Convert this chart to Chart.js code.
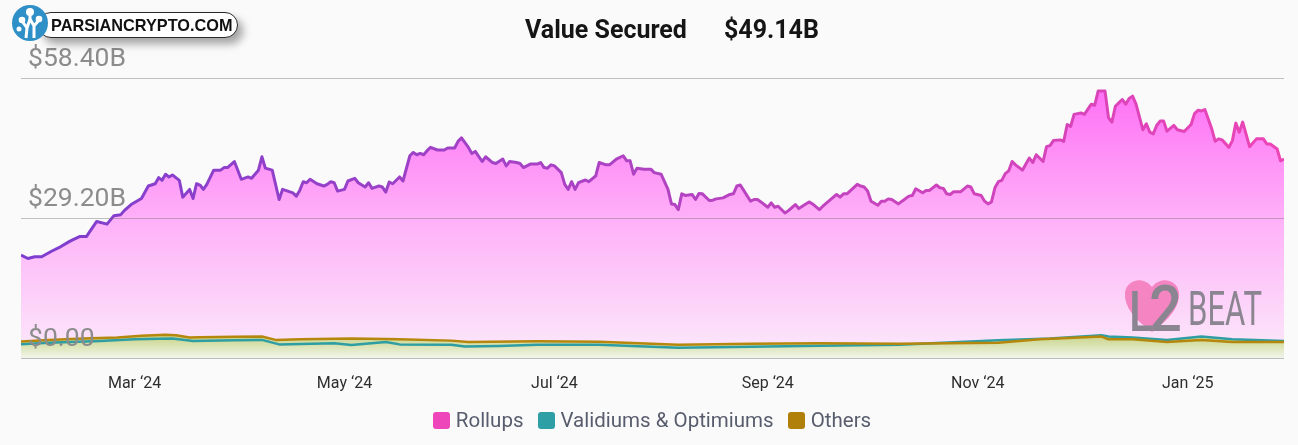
<!DOCTYPE html>
<html>
<head>
<meta charset="utf-8">
<script src="https://cdn.jsdelivr.net/npm/chart.js@4.4.1/dist/chart.umd.min.js"></script>
<style>
  html, body { margin: 0; padding: 0; background: #fafafa; }
  #wrap { position: relative; width: 1298px; height: 445px; font-family: Roboto, sans-serif; overflow: hidden; }
  #wrap canvas { position: absolute; left: 0; top: 0; }
  .title { position: absolute; top: 15px; font-weight: 700; font-size: 25px; line-height: 30px; color: #151515; }
  #legend { position: absolute; left: 3px; width: 1298px; top: 407px; display: flex; justify-content: center; gap: 14px;
            font-size: 20.5px; color: #585d6e; line-height: 26px; }
  #legend span { display: flex; align-items: center; gap: 6px; }
  #legend i { display: inline-block; width: 17px; height: 17px; border-radius: 3px; }
  #pill { position: absolute; left: 38px; top: 12px; width: 186px; height: 24px; padding-left: 12px; background: #fff;
          border: 1.5px solid #2a2a2a; border-radius: 14px; box-shadow: 5px 6px 9px rgba(0,0,0,0.35);
          font-family: "Liberation Sans", Arial, sans-serif; font-weight: 700; font-size: 16.3px; line-height: 24px; color: #111; }
  #coin { position: absolute; left: 11px; top: 4px; }
  #l2beat { position: absolute; left: 1122px; top: 274px; }
</style>
</head>
<body>
<div id="wrap">
  <canvas id="tvlChart" width="1298" height="445"></canvas>
  <div class="title" style="left:525px">Value Secured</div>
  <div class="title" style="left:724px">$49.14B</div>
  <div id="legend"></div>
  <div id="pill">PARSIANCRYPTO.COM</div>
  <svg id="coin" width="38" height="38" viewBox="0 0 38 38">
    <circle cx="19" cy="19" r="18" fill="#2f8fc7"/>
    <path d="M15 34 L16 24 L11 17 M16 24 L19 15 L19 9 M19 15 L23 22 L28 16 M23 22 L23 34" stroke="#fff" stroke-width="3" fill="none"/>
    <circle cx="11" cy="16" r="3.3" fill="#fff"/>
    <circle cx="19" cy="8" r="4" fill="#fff"/>
    <circle cx="28" cy="15" r="3.3" fill="#fff"/>
    <circle cx="8" cy="25" r="2.5" fill="#fff"/>
  </svg>
  <svg id="l2beat" width="150" height="64" viewBox="0 0 150 64">
    <path d="M30 58 C 12 45, 2 32, 3 19 C 4 6, 21 1, 30 13 C 39 1, 56 6, 57 19 C 58 32, 48 45, 30 58 Z" fill="#f585c2"/>
    <text x="7" y="57" font-family="Roboto" font-weight="500" font-size="56" fill="#8b8591" textLength="24" lengthAdjust="spacingAndGlyphs">L</text>
    <text x="27" y="57" font-family="Roboto" font-weight="500" font-size="64" fill="#8b8591" textLength="33" lengthAdjust="spacingAndGlyphs">2</text>
    <text x="66" y="51" font-family="Roboto" font-weight="400" font-size="48" fill="#8b8591" textLength="74" lengthAdjust="spacingAndGlyphs">BEAT</text>
  </svg>
</div>
<script>
// day 0 = 28 Jan 2024, one step per day
const startDate = '2024-01-28';
const lastDay = 367;
const monthTicks = ['2024-03-01', '2024-05-01', '2024-07-01', '2024-09-01', '2024-11-01', '2025-01-01'];
const monthLabels = ['Mar ‘24', 'May ‘24', 'Jul ‘24', 'Sep ‘24', 'Nov ‘24', 'Jan ‘25'];
const yTicks = [0, 29.2, 58.4];

const seriesNames = ['Rollups', 'Validiums & Optimiums', 'Others'];
const seriesColors = ['#ee46ba', '#2e9fa4', '#b0800a'];

// values in $B
const rollupDays = [0, 2, 4, 6, 9, 11, 14, 15, 17, 19, 22, 25, 27, 29, 30, 32, 35, 37, 39, 40,
  41, 42, 43, 44, 46, 47, 49, 50, 51, 52, 53, 54, 56, 58, 59, 60, 62, 64, 66, 67,
  69, 70, 71, 73, 75, 76, 79, 80, 81, 82, 83, 84, 86, 88, 89, 90, 91, 92, 94, 95,
  97, 98, 100, 101, 102, 104, 105, 106, 107, 108, 110, 111, 113, 114, 115, 116, 117, 118, 119, 121,
  123, 124, 126, 127, 128, 130, 131, 132, 134, 135, 137, 138, 140, 141, 142, 144, 145, 146, 148, 150,
  151, 152, 153, 154, 155, 157, 158, 159, 160, 161, 162, 164, 165, 167, 168, 170, 171, 173, 175, 176,
  177, 178, 179, 181, 183, 184, 186, 188, 189, 190, 191, 192, 193, 195, 196, 197, 198, 200, 201, 202,
  204, 206, 207, 208, 209, 210, 212, 213, 214, 215, 217, 218, 219, 220, 222, 223, 225, 226, 229, 230,
  232, 233, 237, 238, 239, 240, 243, 244, 245, 246, 247, 249, 250, 251, 252, 253, 255, 256, 258, 259,
  260, 262, 263, 264, 266, 267, 268, 269, 270, 271, 273, 275, 276, 277, 279, 280, 281, 282, 283, 284,
  285, 286, 287, 288, 289, 291, 292, 293, 294, 295, 297, 298, 299, 300, 302, 303, 304, 305, 306, 308,
  309, 311, 312, 313, 315, 316, 317, 318, 319, 320, 321, 322, 323, 324, 326, 327, 328, 329, 330, 331,
  332, 333, 335, 336, 338, 340, 341, 342, 343, 344, 346, 347, 348, 349, 351, 352, 353, 354, 355, 357,
  359, 361, 362, 363, 365, 366, 367];
const rollupValues = [21.58, 20.86, 21.22, 21.22, 22.42, 23.11, 24.37, 24.73, 25.42, 25.42, 28.57, 28.01, 29.77, 29.98, 30.82, 32.08, 33.34, 35.93, 36.41, 37.67,
  37.12, 38.39, 37.82, 38.24, 37.12, 33.62, 35.23, 33.34, 36.41, 36.14, 35.23, 36.28, 39.23, 39.23, 39.77, 39.77, 41.03, 37.33, 37.82, 37.54,
  39.23, 42.02, 39.65, 39.23, 33.13, 35.23, 34.52, 33.83, 35.02, 36.83, 36.62, 37.33, 36.41, 35.93, 36.28, 36.83, 36.62, 34.88, 35.23, 36.98,
  37.54, 36.62, 35.72, 36.62, 35.44, 35.93, 35.72, 34.67, 36.77, 36.41, 37.82, 36.98, 42.23, 42.92, 42.44, 42.71, 42.44, 43.28, 43.97, 43.43,
  43.43, 43.85, 43.85, 45.23, 45.95, 43.97, 42.71, 43.13, 41.03, 42.02, 40.82, 40.61, 41.54, 40.13, 41.03, 40.82, 40.61, 39.77, 40.49, 40.49,
  40.82, 39.77, 39.65, 40.34, 40.13, 38.72, 36.28, 35.23, 36.83, 35.23, 36.62, 37.19, 36.83, 38.03, 40.82, 40.34, 40.34, 41.54, 42.23, 41.18,
  41.18, 38.39, 39.65, 39.44, 39.44, 38.72, 38.39, 35.23, 32.21, 32.08, 31.03, 34.31, 33.97, 34.18, 33.13, 34.39, 34.31, 32.92, 32.99, 33.26,
  33.47, 34.18, 34.31, 35.93, 36.14, 35.02, 32.78, 33.13, 33.13, 32.63, 31.52, 32.42, 31.52, 31.73, 30.32, 30.82, 32.08, 31.24, 32.63, 32.21,
  31.03, 31.73, 34.18, 33.62, 34.31, 34.31, 36.28, 35.93, 35.72, 34.88, 32.78, 31.94, 32.78, 32.78, 33.26, 33.13, 32.21, 32.78, 33.83, 33.97,
  35.36, 34.52, 35.02, 35.02, 36.14, 35.57, 35.44, 34.31, 34.18, 34.73, 34.73, 35.93, 35.72, 34.31, 33.97, 32.78, 32.21, 32.63, 35.57, 36.83,
  37.12, 38.51, 39.08, 41.03, 40.34, 39.23, 40.49, 41.75, 40.82, 42.44, 41.03, 44.12, 44.33, 45.38, 45.53, 45.23, 48.74, 48.32, 50.84, 51.12,
  50.84, 52.95, 52.74, 55.68, 55.68, 50.15, 49.23, 52.53, 53.22, 53.93, 52.95, 54.14, 54.63, 52.95, 47.63, 48.89, 47.13, 46.79, 48.53, 49.44,
  49.44, 47.34, 48.53, 47.63, 47.27, 48.74, 50.99, 51.68, 51.54, 51.83, 47.84, 45.23, 45.74, 45.53, 43.97, 45.38, 49.02, 47.13, 49.23, 44.12,
  45.74, 45.74, 44.69, 44.69, 43.64, 41.18, 41.54];

const validiumDays = [0, 8, 23, 33, 44, 50, 62, 70, 75, 91, 96, 106, 110, 125, 129, 139, 150, 168, 191, 212, 232, 255, 284, 299, 314, 316, 323, 333, 343, 352, 367];
const validiumValues = [3.00, 3.36, 3.72, 4.05, 4.20, 3.72, 3.84, 3.93, 3.00, 3.21, 2.88, 3.51, 3.00, 2.94, 2.58, 2.67, 2.94, 2.94, 2.31, 2.52, 2.73, 2.94, 3.84, 4.20, 4.90, 4.62, 4.41, 3.93, 4.62, 4.05, 3.72];

const otherDays = [0, 8, 18, 28, 35, 42, 45, 49, 52, 62, 70, 74, 81, 96, 106, 110, 125, 130, 150, 168, 191, 212, 232, 255, 284, 296, 314, 316, 323, 333, 343, 352, 367];
const otherValues = [3.61, 3.93, 4.20, 4.41, 4.77, 4.98, 4.90, 4.41, 4.48, 4.56, 4.62, 3.93, 4.05, 4.20, 4.10, 4.05, 3.78, 3.51, 3.63, 3.57, 2.94, 3.15, 3.26, 3.15, 3.36, 4.05, 4.62, 4.05, 4.05, 3.51, 3.93, 3.51, 3.51];

function dayOf(iso) {
    return Math.round((Date.parse(iso) - Date.parse(startDate)) / 86400000);
}

function points(days, values) {
    return days.map((d, i) => ({ x: d, y: values[i] }));
}

function rollupStroke(context) {
    const { ctx, chartArea } = context.chart;
    if (!chartArea) return '#a542c2';
    const g = ctx.createLinearGradient(chartArea.left, 0, chartArea.right, 0);
    g.addColorStop(0, '#7d3ecf');
    g.addColorStop(0.5, '#b043c2');
    g.addColorStop(1, '#ec45b6');
    return g;
}

function rollupFill(context) {
    const { ctx, chartArea } = context.chart;
    if (!chartArea) return '#fdb8f8';
    const g = ctx.createLinearGradient(0, chartArea.top, 0, chartArea.bottom);
    g.addColorStop(0, '#ff6af5');
    g.addColorStop(0.5, '#feb0f8');
    g.addColorStop(1, '#fbeafa');
    return g;
}

function lowFill(context) {
    const { ctx, chartArea, scales } = context.chart;
    if (!chartArea) return '#dfe6c0';
    const g = ctx.createLinearGradient(0, scales.y.getPixelForValue(5), 0, chartArea.bottom);
    g.addColorStop(0, '#c6d282');
    g.addColorStop(1, '#f3f7ef');
    return g;
}

function money(v) {
    return v === 0 ? '$0.00' : '$' + v.toFixed(2) + 'B';
}

document.addEventListener('DOMContentLoaded', function() {
    Chart.defaults.font.family = 'Roboto';

    // legend
    const legend = document.getElementById('legend');
    seriesNames.forEach(function(name, i) {
        const item = document.createElement('span');
        const box = document.createElement('i');
        box.style.background = seriesColors[i];
        item.appendChild(box);
        item.appendChild(document.createTextNode(name));
        legend.appendChild(item);
    });

    new Chart(document.getElementById('tvlChart'), {
        type: 'line',
        data: {
            datasets: [{
                label: seriesNames[0],
                data: points(rollupDays, rollupValues),
                borderColor: rollupStroke,
                backgroundColor: rollupFill,
                borderWidth: 3,
                fill: 'origin',
                order: 3
            }, {
                label: seriesNames[1],
                data: points(validiumDays, validiumValues),
                borderColor: '#2e9ea3',
                backgroundColor: lowFill,
                borderWidth: 2.5,
                fill: 'origin',
                order: 2
            }, {
                label: seriesNames[2],
                data: points(otherDays, otherValues),
                borderColor: '#b5870c',
                backgroundColor: lowFill,
                borderWidth: 2.5,
                fill: 'origin',
                order: 1
            }]
        },
        options: {
            responsive: false,
            animation: false,
            layout: { padding: { left: 7, right: 14, top: 78, bottom: 35 } },
            elements: {
                point: { radius: 0 },
                line: { tension: 0, borderJoinStyle: 'round' }
            },
            plugins: {
                legend: { display: false },
                tooltip: { enabled: false },
                filler: { drawTime: 'beforeDatasetsDraw' }
            },
            scales: {
                x: {
                    type: 'linear',
                    min: 0,
                    max: lastDay,
                    grid: { display: false, drawTicks: false },
                    border: { display: false },
                    afterBuildTicks: function(scale) {
                        scale.ticks = monthTicks.map(m => ({ value: dayOf(m) }));
                    },
                    ticks: {
                        autoSkip: false,
                        maxRotation: 0,
                        padding: 16,
                        color: '#2e2e2e',
                        font: { size: 16 },
                        callback: (v, i) => monthLabels[i]
                    }
                },
                y: {
                    min: 0,
                    max: 58.4,
                    // grid and labels drawn over the filled areas
                    grid: { color: 'rgba(110,110,110,0.42)', drawTicks: false, z: 1 },
                    border: { display: false },
                    afterBuildTicks: function(scale) {
                        scale.ticks = yTicks.map(v => ({ value: v }));
                    },
                    ticks: {
                        z: 1,
                        mirror: true,
                        padding: 7,
                        labelOffset: -19,
                        color: '#8c8c8c',
                        font: { size: 26.5 },
                        callback: v => money(v)
                    }
                }
            }
        }
    });
});
</script>
</body>
</html>
